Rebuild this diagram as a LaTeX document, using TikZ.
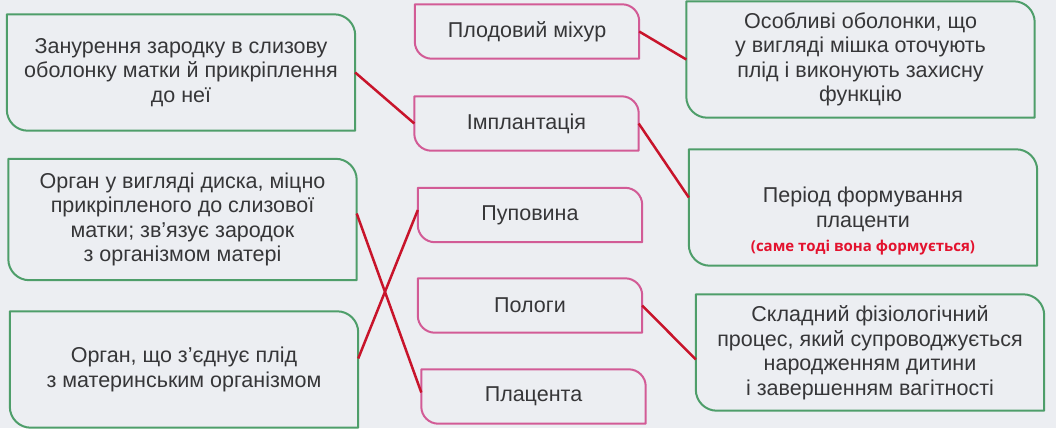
\documentclass[tikz,border=0pt]{standalone}
\usepackage{fontspec}
\setmainfont{Liberation Sans}
\newfontfamily\notefont{Open Sans}
\usepackage{tikz}
\definecolor{pagebg}{HTML}{ECEEF2}
\definecolor{ink}{HTML}{363638}
\definecolor{leafgreen}{HTML}{4E9E6A}
\definecolor{leafpink}{HTML}{D25B96}
\definecolor{linkred}{HTML}{C8142B}
\definecolor{notered}{HTML}{E3122E}

% box outline: sharp top-left and bottom-right, rounded top-right and bottom-left
\newcommand\leafframe[3]{%
  \draw[#2,line width=2pt,line join=round] (#1.north west) -- ([xshift=-#3]#1.north east)
    arc[start angle=90,end angle=0,radius=#3] -- (#1.south east)
    -- ([xshift=#3]#1.south west) arc[start angle=270,end angle=180,radius=#3] -- cycle;}

\tikzset{
  term/.style={font=\fontsize{21.5}{24.5}\selectfont,text=ink,align=center,inner sep=0pt},
  defbox/.style={term,minimum width=348pt,minimum height=116pt},
  namebox/.style={term,minimum width=224pt,minimum height=54pt},
  link/.style={linkred,line width=2.5pt},
}

\begin{document}
\begin{tikzpicture}[x=1pt,y=-1pt]
\fill[pagebg] (0,0) rectangle (1056,428);
% left column
\node[defbox] (zanur) at (181,72.5) {Занурення зародку в слизову\\оболонку матки й прикріплення\\до неї};
\node[defbox,minimum height=121pt] (dysk) at (182.5,219.5) {Орган у вигляді диска, міцно\\прикріпленого до слизової\\матки; зв’язує зародок\\з організмом матері};
\node[defbox] (organ) at (184,369.5) {Орган, що з’єднує плід\\з материнським організмом};
% middle column
\node[namebox] (mikhur) at (527,31.5) {Плодовий міхур};
\node[namebox] (implant) at (526.5,123.5) {Імплантація};
\node[namebox] (pupovyna) at (530,215) {Пуповина};
\node[namebox] (pology) at (530,305.5) {Пологи};
\node[namebox] (platsenta) at (533.5,396.5) {Плацента};
% right column
\node[defbox] (obolonky) at (860.5,59.5) {Особливі оболонки, що\\у вигляді мішка оточують\\плід і виконують захисну\\функцію};
\node[defbox] (period) at (863,207.5) {};
\node[term] (period-text) at ([yshift=-14pt]period.center) {Період формування\\плаценти\\{\notefont\bfseries\fontsize{15}{20}\selectfont\color{notered}(саме тоді вона формується)}};
\node[defbox] (protses) at (870,352.5) {Складний фізіологічний\\процес, який супроводжується\\народженням дитини\\і завершенням вагітності};

\foreach \n in {zanur,dysk,organ,obolonky,period,protses}
  \leafframe{\n}{leafgreen}{21pt};
\foreach \n in {mikhur,implant,pupovyna,pology,platsenta}
  \leafframe{\n}{leafpink}{17pt};

% answers
\draw[link] (zanur.east) -- (implant.west);
\draw[link] (mikhur.east) -- (obolonky.west);
\draw[link] (implant.east) -- ([yshift=10pt]period.west);
\draw[link] ([yshift=6pt]dysk.east) -- ([yshift=4pt]platsenta.west);
\draw[link] ([yshift=11pt]organ.east) -- ([yshift=5pt]pupovyna.west);
\draw[link] (pology.east) -- ([yshift=-7pt]protses.west);
\end{tikzpicture}
\end{document}
